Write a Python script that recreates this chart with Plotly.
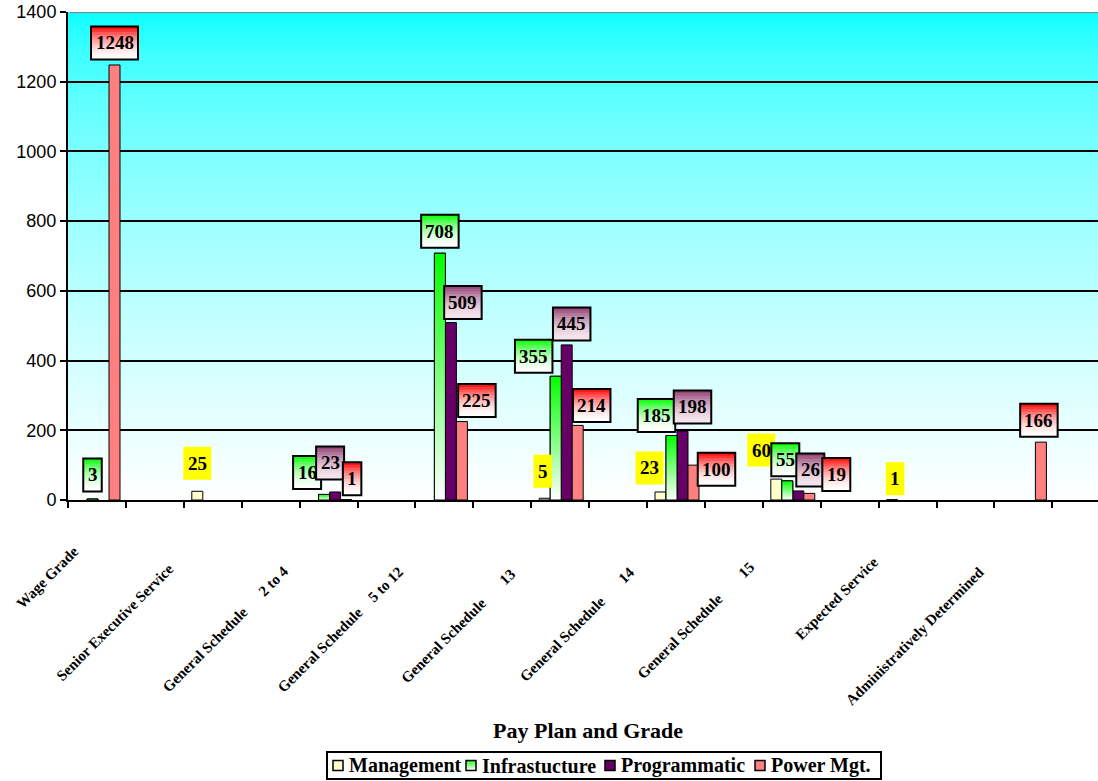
import plotly.graph_objects as go

# ---------------- data ----------------
categories = [
    "Wage Grade",
    "Senior Executive Service",
    "General Schedule 2 to 4",
    "General Schedule 5 to 12",
    "General Schedule 13",
    "General Schedule 14",
    "General Schedule 15",
    "Expected Service",
    "Administratively Determined",
]
# axis labels as printed (wide gap between plan and grade)
NB = "\u00a0"
tick_labels = [
    "Wage Grade",
    "Senior Executive Service",
    "General Schedule" + NB * 6 + "2 to 4",
    "General Schedule" + NB * 4 + "5 to 12",
    "General Schedule" + NB * 7 + "13",
    "General Schedule" + NB * 7 + "14",
    "General Schedule" + NB * 8 + "15",
    "Expected Service",
    "Administratively Determined",
]
management = [0, 25, 0, 0, 5, 23, 60, 1, 0]
infrastructure = [3, 0, 16, 708, 355, 185, 55, 0, 0]
programmatic = [0, 0, 23, 509, 445, 198, 26, 0, 0]
power_mgt = [1248, 0, 1, 225, 214, 100, 19, 0, 166]

# ---------------- geometry / style ----------------
W, H = 1098, 781
PLOT_L, PLOT_T, PLOT_B = 68, 12, 500
SLOT_PX = 57.9                       # one slot per half category step
X_MAX = (W - PLOT_L) / SLOT_PX
Y_MAX = 1400
PAD = 8 / SLOT_PX                    # gap before first bar of a group
BW = 11 / SLOT_PX                    # bar width in slot units
PLOT_H = PLOT_B - PLOT_T
PLOT_W = W - PLOT_L

SERIF = "Liberation Serif, Times New Roman, serif"
SANS = "Liberation Sans, Arial, sans-serif"

series = [
    dict(name="Management", values=management, color="#FFFFCC", label="yellow"),
    dict(name="Infrastucture", values=infrastructure, color="#7CFF7C", label=("#00FF00", "#FFFFFF")),
    dict(name="Programmatic", values=programmatic, color="#660066", label=("#8E3C6E", "#F4E6EE")),
    dict(name="Power Mgt.", values=power_mgt, color="#FF8080", label=("#FF0000", "#FFFFFF")),
]

# value-label placement (pixel shift of box centre from bar top), keyed by (series, category)
label_shift = {
    (1, 0): (0, -24), (3, 0): (0, -22),
    (0, 1): (0, -28),
    (1, 2): (-17, -22), (2, 2): (-5, -29), (3, 2): (6, -21),
    (1, 3): (0, -22), (2, 3): (12, -20), (3, 3): (15, -21),
    (0, 4): (-2, -27), (1, 4): (-22, -20), (2, 4): (5, -21), (3, 4): (14, -20),
    (0, 5): (-11, -24), (1, 5): (-15, -20), (2, 5): (10, -24), (3, 5): (23, 4),
    (0, 6): (-15, -29), (1, 6): (-2, -21), (2, 6): (12, -21), (3, 6): (27, -19),
    (0, 7): (3, -21),
    (3, 8): (-2, -22),
}

# category-label end points relative to category centre / axis (px)
cat_label_end = [(-20, 42), (-41, 60), (-42, 62), (-44, 63), (-47, 65),
                 (-43, 63), (-39, 58), (-31, 53), (-41, 63)]


def hex_to_rgb(h):
    h = h.lstrip("#")
    return tuple(int(h[i:i + 2], 16) for i in (0, 2, 4))


def mix(c_top, c_bot, t):
    a, b = hex_to_rgb(c_top), hex_to_rgb(c_bot)
    return "rgb(%d,%d,%d)" % tuple(round(a[i] + (b[i] - a[i]) * t) for i in range(3))


def px_x(px):
    """paper x for an absolute pixel column"""
    return (px - PLOT_L) / PLOT_W


def px_y(py):
    """paper y for an absolute pixel row"""
    return (PLOT_B - py) / PLOT_H


fig = go.Figure()
shapes = []
annotations = []

# plot-area background: cyan at the top fading to white
STEP = 10
for k in range(Y_MAX // STEP):
    f = (k + 0.5) * STEP / Y_MAX
    r = round(255 * (1 - f) ** 0.58)
    shapes.append(dict(type="rect", xref="x domain", yref="y", x0=0, x1=1,
                       y0=k * STEP, y1=min(Y_MAX, (k + 1) * STEP + 4),
                       fillcolor="rgb(%d,255,255)" % r, line=dict(width=0),
                       layer="below"))
shapes.append(dict(type="line", xref="paper", yref="y", x0=0.002, x1=1,
                   y0=Y_MAX, y1=Y_MAX, line=dict(color="#808080", width=2),
                   layer="above"))

# bars (zero counts are left empty)
for k, s in enumerate(series):
    fig.add_trace(go.Bar(
        name=s["name"],
        x=[2 * i for i in range(len(categories))],
        y=[v if v > 0 else None for v in s["values"]],
        offset=PAD + BW * k,
        width=BW,
        marker=dict(color=s["color"], line=dict(color="black", width=1)),
        customdata=categories,
        hovertemplate="%{customdata}<br>" + s["name"] + ": %{y}<extra></extra>",
        showlegend=False,
    ))

# gradient fill of the infrastructure bars
for i, v in enumerate(infrastructure):
    if v <= 0:
        continue
    x0 = 2 * i + PAD + BW
    x1 = x0 + BW
    fig.add_trace(go.Scatter(
        x=[x0, x1, x1, x0, x0], y=[0, 0, v, v, 0],
        mode="lines", fill="toself",
        line=dict(color="black", width=1),
        fillgradient=dict(type="vertical", start=0, stop=v,
                          colorscale=[[0, "#FFFFFF"], [1, "#00FF00"]]),
        showlegend=False, hoverinfo="skip",
    ))

# value labels
BOX_H = 33
N_STRIPS = 12
for k, s in enumerate(series):
    for i, v in enumerate(s["values"]):
        if v <= 0:
            continue
        xc = 2 * i + PAD + BW * k + BW / 2
        dx, dy = label_shift.get((k, i), (0, -22))
        text = str(v)
        w = 9.5 * len(text) + 9
        cy = -dy                     # pixel offset upward from bar top
        top, bot = cy + BOX_H / 2, cy - BOX_H / 2
        common = dict(type="rect", xref="x", yref="y", xsizemode="pixel",
                      ysizemode="pixel", xanchor=xc, yanchor=v, layer="above")
        if s["label"] == "yellow":
            shapes.append(dict(common, x0=dx - w / 2, x1=dx + w / 2, y0=bot, y1=top,
                               fillcolor="#FFFF00", line=dict(width=0)))
        else:
            c_top, c_bot = s["label"]
            sh = BOX_H / N_STRIPS
            for j in range(N_STRIPS):
                t = 1 - (1 - (j + 0.5) / N_STRIPS) ** 1.8
                y_hi = top - j * sh
                y_lo = max(bot, y_hi - sh - 1)
                shapes.append(dict(common, x0=dx - w / 2, x1=dx + w / 2,
                                   y0=y_lo, y1=y_hi,
                                   fillcolor=mix(c_top, c_bot, t), line=dict(width=0)))
            shapes.append(dict(common, x0=dx - w / 2, x1=dx + w / 2, y0=bot, y1=top,
                               fillcolor="rgba(0,0,0,0)",
                               line=dict(color="black", width=2)))
        annotations.append(dict(x=xc, y=v, xref="x", yref="y", xshift=dx, yshift=cy,
                                text="<b>%s</b>" % text, showarrow=False,
                                xanchor="center", yanchor="middle",
                                font=dict(family=SERIF, size=19, color="black")))

# rotated category labels
for i, lab in enumerate(tick_labels):
    ex, ey = cat_label_end[i]
    annotations.append(dict(x=2 * i + 0.5, y=0, xref="x", yref="paper",
                            xshift=ex + 8, yshift=-(ey - 2),
                            text="<b>%s</b>" % lab, textangle=-45, showarrow=False,
                            xanchor="right", yanchor="top",
                            font=dict(family=SERIF, size=15, color="black")))

# axis title
annotations.append(dict(x=px_x(588), y=px_y(730), xref="paper", yref="paper",
                        text="<b>Pay Plan and Grade</b>", showarrow=False,
                        xanchor="center", yanchor="middle",
                        font=dict(family=SERIF, size=22, color="black")))

# legend: framed box with a swatch in front of each series name
LEG_TOP, LEG_BOT, LEG_L, LEG_R = 752, 779, 327, 881
LEG_MID = (LEG_TOP + LEG_BOT) / 2
legend_swatch_px = [333, 466, 605, 755]
shapes.append(dict(type="rect", xref="paper", yref="paper",
                   x0=px_x(LEG_L), x1=px_x(LEG_R), y0=px_y(LEG_BOT), y1=px_y(LEG_TOP),
                   fillcolor="white", line=dict(color="black", width=2), layer="above"))
for k, s in enumerate(series):
    sx = legend_swatch_px[k]
    sw_common = dict(type="rect", xref="paper", yref="paper", layer="above")
    if k == 1:
        for j in range(5):
            t = (j + 0.5) / 5
            shapes.append(dict(sw_common, x0=px_x(sx), x1=px_x(sx + 10),
                               y0=px_y(LEG_MID - 5 + 2 * (j + 1)), y1=px_y(LEG_MID - 5 + 2 * j),
                               fillcolor=mix("#00FF00", "#FFFFFF", t), line=dict(width=0)))
        fill = "rgba(0,0,0,0)"
    else:
        fill = s["color"]
    shapes.append(dict(sw_common, x0=px_x(sx), x1=px_x(sx + 10),
                       y0=px_y(LEG_MID + 5), y1=px_y(LEG_MID - 5),
                       fillcolor=fill, line=dict(color="black", width=1.5)))
    annotations.append(dict(x=px_x(sx + 14), y=px_y(LEG_MID), xref="paper", yref="paper",
                            text="<b>%s</b>" % s["name"], showarrow=False,
                            xanchor="left", yanchor="middle",
                            font=dict(family=SERIF, size=20, color="black")))

fig.update_layout(
    width=W, height=H,
    margin=dict(l=PLOT_L, r=0, t=PLOT_T, b=H - PLOT_B, pad=0),
    paper_bgcolor="white",
    plot_bgcolor="white",
    barmode="overlay",
    showlegend=False,
    shapes=shapes,
    annotations=annotations,
    xaxis=dict(range=[0, X_MAX], tickvals=list(range(0, 19)), showticklabels=False,
               ticks="outside", ticklen=6, tickwidth=2, tickcolor="black",
               showline=True, linecolor="black", linewidth=2,
               showgrid=False, zeroline=False, fixedrange=True),
    yaxis=dict(range=[0, Y_MAX], tickvals=list(range(0, Y_MAX + 1, 200)),
               ticks="outside", ticklen=6, tickwidth=2, tickcolor="black",
               showline=True, linecolor="black", linewidth=2,
               showgrid=True, gridcolor="black", gridwidth=1.5,
               zeroline=False, tickfont=dict(family=SANS, size=18, color="black"),
               fixedrange=True),
)

fig.write_html("out.html")
